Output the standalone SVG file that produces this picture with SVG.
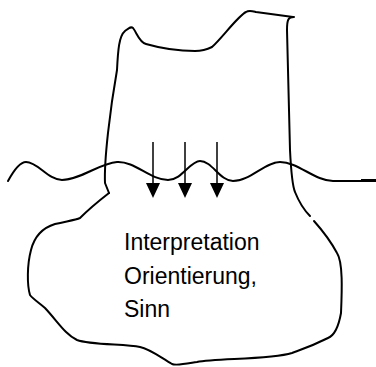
<svg xmlns="http://www.w3.org/2000/svg" width="376" height="367" viewBox="0 0 376 367">
<defs>
<style>
.o{fill:none;stroke:#000;stroke-width:2;stroke-linecap:round;stroke-linejoin:round}
.a{fill:none;stroke:#000;stroke-width:1.5}
.t{font-family:"Liberation Sans",Arial,sans-serif;font-size:23px;fill:#000}
</style>
</defs>
<rect width="376" height="367" fill="#fff"/>
<g id="upper">
<path class="o" d="M109,193 L105,183 C104,160 110,110 117,70 C118,50 119,36 125,31 C129,28 131,26 133,28 C137,33 139,42 146,44 C160,48 178,51 195,51 C203,51 208,49 212,47 C222,38 238,16 246,12 C249,10 252,11 256,12 L293,17"/>
<path class="o" d="M294,17 C288,17 287,20 287,30 L290,150 C291,170 292,185 295,192 C299,202 304,210 310,216"/>
</g>
<g id="lower">
<path class="o" d="M314,221 C322,230 330,240 337,253 C343,262 342,290 341,313 C338,330 333,336 328,338 C310,347 300,350 292,353 C270,360 215,358 197,362 C185,364 176,366 172,364 C160,357 150,349 140,347 C125,344 90,345 77,340 C65,334 58,322 45,308 C38,302 33,299 30,295 C27,285 27,265 31,250 C34,238 42,228 55,224 C68,221 76,220 80,218 C90,208 100,200 109,193"/>
<text class="t" x="124" y="250">Interpretation</text>
<text class="t" x="124" y="284">Orientierung,</text>
<text class="t" x="124" y="317">Sinn</text>
</g>
<g id="surface">
<path class="o" d="M8,181 C14,170 20,162 26,162 C38,162 48,180 62,180 C80,180 100,163 117,162 C135,161 150,180 168,180 C182,180 190,161 200,161 C212,161 220,181 233,181 C250,181 265,162 280,162 C298,162 315,181 333,181 L362,181"/>
<path d="M361,180.5 L376,180.5" stroke="#000" stroke-width="3"/>
</g>
<g id="connectors">
<path class="a" d="M153,142 L153,183"/>
<path class="a" d="M185,142 L185,183"/>
<path class="a" d="M217,142 L217,183"/>
<polygon points="146,183 160,183 153,198"/>
<polygon points="178,183 192,183 185,198"/>
<polygon points="210,183 224,183 217,198"/>
</g>
</svg>
